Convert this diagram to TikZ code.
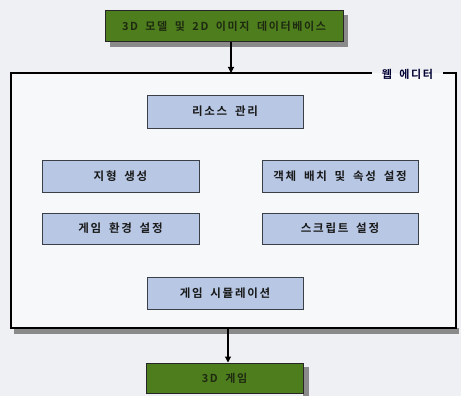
\documentclass[tikz,border=0pt]{standalone}
\usepackage{fontspec}
\setmainfont{Noto Sans CJK KR}[BoldFont={* Bold}]
\newfontfamily\boxfont{Noto Sans CJK KR Bold}[LetterSpace=15, WordSpace=1.8]
\usetikzlibrary{arrows.meta}
\definecolor{gfill}{HTML}{4E7D1E}
\definecolor{gtext}{HTML}{1E2A10}
\definecolor{bfill}{HTML}{B7C7E4}
\definecolor{bdraw}{HTML}{3A3F48}
\definecolor{bg}{HTML}{EEF0F3}
\definecolor{framefill}{HTML}{F7F8FA}
\definecolor{shadowc}{HTML}{8A8A8A}
\tikzset{
  px/.style={x=1pt,y=-1pt},
  greenbox/.style={draw=black!85, line width=1pt, fill=gfill, text=gtext, font=\boxfont\fontsize{11}{13}\selectfont, inner sep=0pt},
  bluebox/.style={draw=bdraw, line width=0.9pt, fill=bfill, text=black!90, font=\boxfont\fontsize{11.5}{13}\selectfont, inner sep=0pt},
  conn/.style={line width=1.1pt, -{Triangle[length=6pt,width=6pt]}},
}
\begin{document}
\begin{tikzpicture}[px]
\useasboundingbox (0,0) rectangle (461,396);
\fill[bg] (0,0) rectangle (461,396);
% frame shadow
\fill[shadowc] (14,328) rectangle (459,334);
\fill[framefill] (11,73) rectangle (456,328);
% frame
\coordinate (fl) at (372,73);
\coordinate (fr) at (443,73);
\draw[line width=1.1pt] (fl) -- (11,73) -- (11,328) -- (456,328) -- (456,73) -- (fr);
\node[font=\boxfont\fontsize{11}{13}\selectfont, text=black!80!blue, inner sep=0pt] (lab) at (407.5,74) {웹 에디터};
% top box
\fill[shadowc] (110,41) rectangle (348,47);
\fill[shadowc] (343,15) rectangle (348,47);
\node[greenbox, minimum width=238pt, minimum height=31pt] (db) at (224,26) {3D 모델 및 2D 이미지 데이터베이스};
\coordinate (ftop) at (231,73);
\draw[conn] (db.south -| ftop) -- (ftop);
% blue boxes
\node[bluebox, minimum width=156pt, minimum height=33pt] (res) at (225,111.5) {리소스 관리};
\node[bluebox, minimum width=157pt, minimum height=32pt] (ter) at (120.5,176) {지형 생성};
\node[bluebox, minimum width=156pt, minimum height=32pt] (obj) at (340,176) {객체 배치 및 속성 설정};
\node[bluebox, minimum width=157pt, minimum height=31pt] (env) at (120.5,228.5) {게임 환경 설정};
\node[bluebox, minimum width=156pt, minimum height=31pt] (scr) at (340,228.5) {스크립트 설정};
\node[bluebox, minimum width=156pt, minimum height=32pt] (sim) at (225,293) {게임 시뮬레이션};
% bottom box
\fill[shadowc] (303,367) rectangle (309,396);
\node[greenbox, minimum width=157pt, minimum height=30pt] (game) at (224.5,378) {3D 게임};
\coordinate (fbot) at (228,328);
\draw[conn] (fbot) -- (fbot |- game.north);
\end{tikzpicture}
\end{document}
